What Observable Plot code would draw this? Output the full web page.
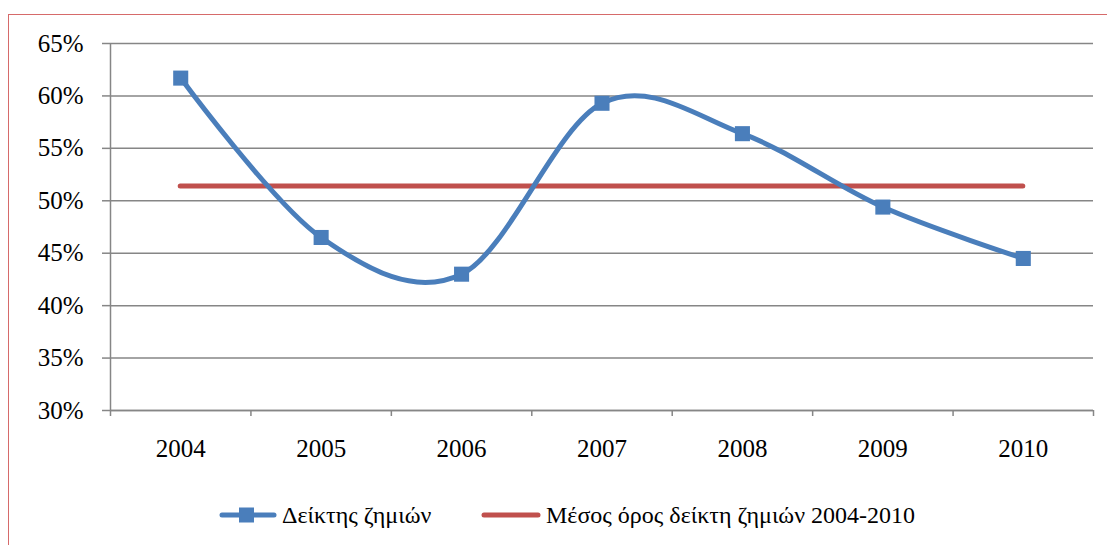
<!DOCTYPE html>
<html>
<head>
<meta charset="utf-8">
<script src="https://cdn.jsdelivr.net/npm/d3@7"></script>
<script src="https://cdn.jsdelivr.net/npm/@observablehq/plot@0.6"></script>
<style>
  html, body { margin: 0; padding: 0; background: #fff; }
  #wrap { position: relative; width: 1107px; height: 545px; overflow: hidden; font-family: "Liberation Serif", "DejaVu Serif", serif; }
  #border { position: absolute; left: 8px; top: 14px; width: 1120px; height: 560px; border: 1.5px solid #d66a6a; box-sizing: border-box; }
  #chart { position: absolute; left: 0; top: 0; }
  #legend { position: absolute; top: 500px; left: 0; width: 1107px; height: 30px; font-size: 24px; color: #000; font-family: "Liberation Serif", "DejaVu Serif", serif; }
  .item { position: absolute; top: 0; display: flex; align-items: center; height: 30px; white-space: nowrap; }
  .item span { font-family: "Liberation Serif", "DejaVu Serif", serif; }
  .item svg { margin-right: 4px; }
</style>
</head>
<body>
<div id="wrap">
  <div id="border"></div>
  <div id="chart"></div>
  <div id="legend"></div>
</div>
<script>
const years = [2004, 2005, 2006, 2007, 2008, 2009, 2010];
const lossRatio = [0.617, 0.465, 0.430, 0.593, 0.564, 0.494, 0.445];
const meanRatio = 0.514;
const yTicks = [0.30, 0.35, 0.40, 0.45, 0.50, 0.55, 0.60, 0.65];
const bandEdges = [2003.5, 2004.5, 2005.5, 2006.5, 2007.5, 2008.5, 2009.5, 2010.5];
const seriesName = "Δείκτης ζημιών";
const meanName = "Μέσος όρος δείκτη ζημιών 2004-2010";

const blue = "#4a7ebb";
const red = "#c0504d";
const gray = "#868686";

const data = years.map((year, i) => ({year, value: lossRatio[i]}));

const chart = Plot.plot({
  width: 1107,
  height: 470,
  marginLeft: 110,
  marginRight: 14,
  marginTop: 43,
  marginBottom: 60,
  style: {fontFamily: "'Liberation Serif', 'Times New Roman', serif", fontSize: "25px", color: "#000", background: "transparent"},
  x: {domain: [2003.5, 2010.5], axis: null, label: null},
  y: {domain: [0.30, 0.65], axis: null, label: null},
  marks: [
    Plot.gridY(yTicks, {stroke: gray, strokeOpacity: 1, strokeWidth: 1.5}),
    Plot.ruleX([2003.5], {stroke: gray, strokeWidth: 1.5}),
    Plot.ruleY([0.30], {stroke: gray, strokeWidth: 1.5}),
    Plot.axisY(yTicks, {label: null, tickSize: 8, tickPadding: 19, stroke: gray, strokeWidth: 1.5, tickFormat: d3.format(".0%"), fontSize: 25, fill: "#000"}),
    Plot.axisX(bandEdges, {label: null, tickSize: 6, tickFormat: () => "", stroke: gray, strokeWidth: 1.5}),
    Plot.axisX(years, {label: null, tickSize: 0, tickPadding: 29, tickFormat: d => String(d), fontSize: 25, fill: "#000"}),
    Plot.ruleY([meanRatio], {x1: years[0], x2: years[years.length - 1], stroke: red, strokeWidth: 5, strokeLinecap: "round"}),
    Plot.line(data, {x: "year", y: "value", curve: "cardinal", stroke: blue, strokeWidth: 5, strokeLinejoin: "round"}),
    Plot.dot(data, {x: "year", y: "value", symbol: "square", r: 8.5, fill: blue, stroke: "none"})
  ]
});
document.getElementById("chart").appendChild(chart);

const legend = document.getElementById("legend");
legend.innerHTML = `
  <div class="item" style="left:218px">
    <svg width="60" height="20"><line x1="4" y1="10" x2="56" y2="10" stroke="${blue}" stroke-width="5" stroke-linecap="round"/><rect x="21" y="2.5" width="15" height="15" fill="${blue}"/></svg>
    <span>${seriesName}</span>
  </div>
  <div class="item" style="left:480px">
    <svg width="62" height="20"><line x1="4" y1="10" x2="58" y2="10" stroke="${red}" stroke-width="5" stroke-linecap="round"/></svg>
    <span>${meanName}</span>
  </div>`;
</script>
</body>
</html>
